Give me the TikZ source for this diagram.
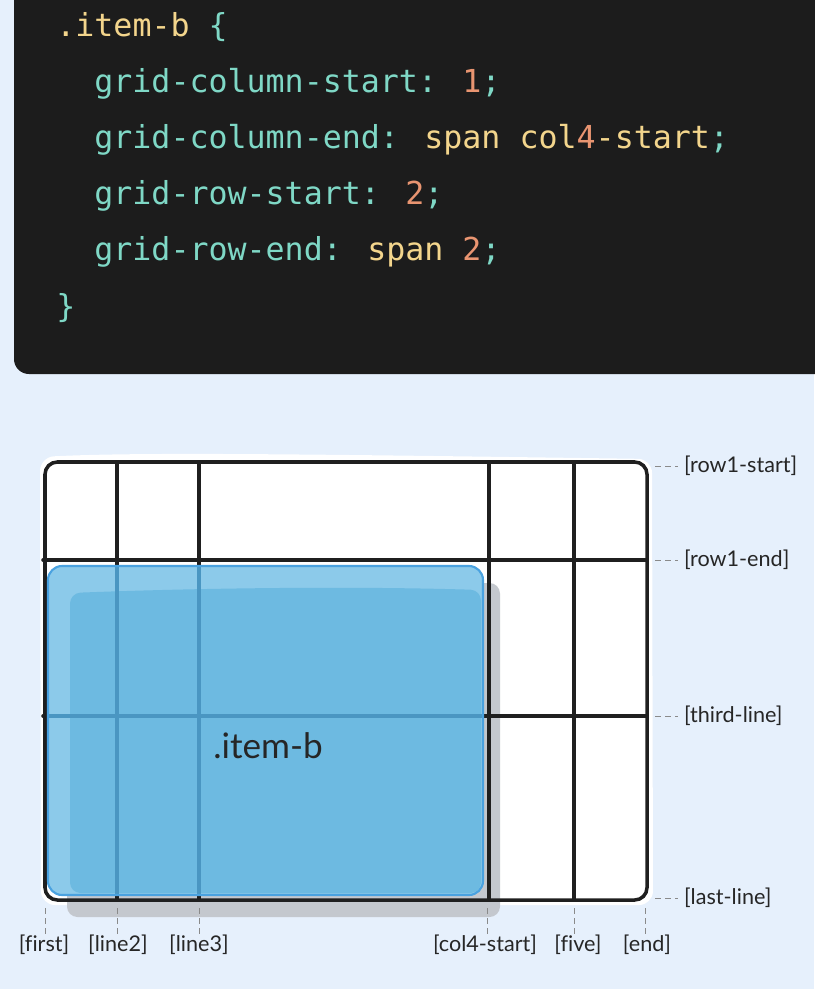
\documentclass[tikz,border=0pt]{standalone}
\usepackage{fontspec}
\usepackage{tikz}
\usetikzlibrary{positioning, calc}
\setmainfont{Lato}[Ligatures=CommonOff]
\newfontfamily\codefont{DejaVu Sans Mono}

\definecolor{pagebg}{HTML}{E6F0FC}
\definecolor{codebg}{HTML}{1C1C1C}
\definecolor{cteal}{HTML}{7FD8C6}
\definecolor{cyell}{HTML}{F3D58C}
\definecolor{corng}{HTML}{E99571}
\definecolor{itemlight}{HTML}{8CCAEA}
\definecolor{itemmain}{HTML}{6DBAE1}
\definecolor{itemedge}{HTML}{4AA2E0}
\definecolor{itemline}{HTML}{4A96C2}
\definecolor{shadowgray}{HTML}{C4C8CE}
\definecolor{tickgray}{HTML}{8A8A8A}

\begin{document}
\begin{tikzpicture}[x=0.02cm, y=-0.02cm,
    codeline/.style={anchor=base west, inner sep=0, font=\codefont\fontsize{18}{20}\selectfont},
    gridline/.style={line width=2pt, draw=black!88, line cap=round},
    tick/.style={draw=tickgray, line width=0.5pt, dash pattern=on 3.4pt off 2.3pt},
    linelabel/.style={inner sep=1pt, font=\fontsize{12.3}{14}\selectfont, text=black!85}]
    \useasboundingbox (0,0) rectangle (814,989);
    \fill[pagebg] (0,0) rectangle (814,989);

    % Code panel
    \fill[codebg, rounded corners=8.5pt] (14,-60) rectangle (880,374);
    \node[codeline] (sel)  at (56,37)  {\textcolor{cyell}{.item-b} \textcolor{cteal}{\{}};
    \node[codeline] (cs)   at (94,93)  {\textcolor{cteal}{grid-column-start:} \textcolor{corng}{1}\textcolor{cteal}{;}};
    \node[codeline] (ce)   at (94,149) {\textcolor{cteal}{grid-column-end:} \textcolor{cyell}{span col}\textcolor{corng}{4}\textcolor{cyell}{-start}\textcolor{cteal}{;}};
    \node[codeline] (rs)   at (94,205) {\textcolor{cteal}{grid-row-start:} \textcolor{corng}{2}\textcolor{cteal}{;}};
    \node[codeline] (re)   at (94,261) {\textcolor{cteal}{grid-row-end:} \textcolor{cyell}{span} \textcolor{corng}{2}\textcolor{cteal}{;}};
    \node[codeline] (cls)  at (56,317) {\textcolor{cteal}{\}}};

    % Grid container
    \fill[white, rounded corners=8pt] (40,457) .. controls (140,452) and (300,454) .. (652,459) -- (653,905) -- (41,905) -- cycle;
    \fill[shadowgray, rounded corners=6pt] (67,583) rectangle (500,917);
    \foreach \gx in {117,199,489,574}
        \draw[gridline] (\gx,462) -- (\gx,900);
    \foreach \gy in {560,716}
        \draw[gridline] (43,\gy) -- (647,\gy);
    \draw[gridline, rounded corners=7pt] (45,462) rectangle (647,900);

    % Item b
    \fill[itemlight, rounded corners=8pt] (48,566) rectangle (483,895);
    \fill[itemmain, rounded corners=6pt] (70,593) .. controls (200,588) and (350,586) .. (481,590) -- (481,893) -- (70,893) -- cycle;
    \begin{scope}
        \clip[rounded corners=8pt] (48,566) rectangle (483,895);
        \foreach \gx in {117,199}
            \draw[itemline, line width=1.8pt] (\gx,560) -- (\gx,900);
        \draw[itemline, line width=1.8pt] (40,716) -- (490,716);
    \end{scope}
    \draw[itemedge, line width=1.2pt, rounded corners=8pt] (48,566) rectangle (483,895);
    \node[anchor=base, inner sep=0, font=\fontsize{20}{22}\selectfont, text=black!85] (itemb) at (268,758) {.item-b};

    % Row line names
    \foreach \ry/\rname [count=\ri] in {466/row1-start, 560/row1-end, 716/third-line, 898/last-line} {
        \coordinate (rowend\ri) at (655,\ry);
        \node[linelabel, anchor=west] (rowlab\ri) at (682,\ry) {[\rname]};
        \draw[tick] (rowend\ri) -- ([xshift=-2.5pt]rowlab\ri.west);
    }

    % Column line names
    \foreach \cx/\lx/\cname [count=\ci] in {45/44/first, 117/118/line2, 199/199/line3, 487/485/col4-start, 574/578/five, 645/647/end} {
        \coordinate (colend\ci) at (\cx,908);
        \node[linelabel] (collab\ci) at (\lx,945) {[\cname]};
        \draw[tick] (colend\ci) -- (\cx,934);
    }
\end{tikzpicture}
\end{document}
